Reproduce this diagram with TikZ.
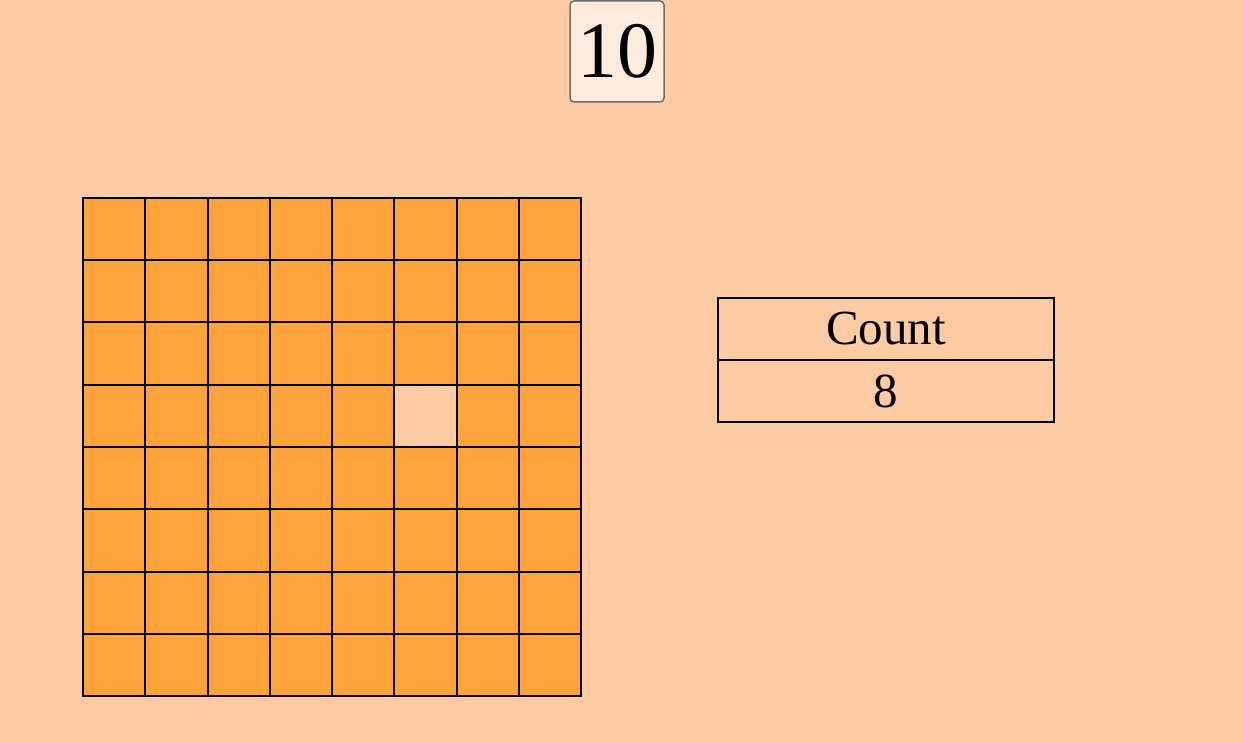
\documentclass[tikz,border=0pt]{standalone}
\usepackage{fontspec}
\setmainfont{Liberation Serif}
\usetikzlibrary{positioning}
\definecolor{peach}{HTML}{FFCBA4}
\definecolor{tileorange}{HTML}{FFA33A}
\definecolor{paleface}{HTML}{FFEBDC}
\definecolor{edgegray}{HTML}{6E6E6E}
\begin{document}
\begin{tikzpicture}[x=1pt,y=-1pt]
\tikzset{
  tile/.style={draw=black,line width=2pt,fill=tileorange,minimum size=62.25pt,inner sep=0pt,outer sep=0pt},
  hole/.style={tile,fill=peach},
  countcell/.style={draw=black,line width=2pt,minimum width=336pt,minimum height=62pt,inner sep=0pt,outer sep=0pt,font=\fontsize{49}{49}\selectfont},
  numcard/.style={draw=edgegray,line width=1.5pt,rounded corners=4pt,fill=paleface,minimum width=94pt,minimum height=101pt,inner sep=0pt,font=\fontsize{80}{80}\selectfont}
}
\fill [peach] (0,0) rectangle (1243,743);
\useasboundingbox (0,0) rectangle (1243,743);
% the number card at the top
\node [numcard] (card) at (617,51.5) {10};
% 8 by 8 board, one tile missing
\foreach \i in {0,...,7}
  \foreach \j in {0,...,7}
    \node [tile] (c-\i-\j) at (83+62.25*\i+31.125,198+62.25*\j+31.125) {};
\node [hole] (c-5-3) at (83+62.25*5+31.125,198+62.25*3+31.125) {};
% count table
\node [countcell] (counthead) at (886,329) {Count};
\node [countcell,below=0pt of counthead] (countval) {8};
\end{tikzpicture}
\end{document}
